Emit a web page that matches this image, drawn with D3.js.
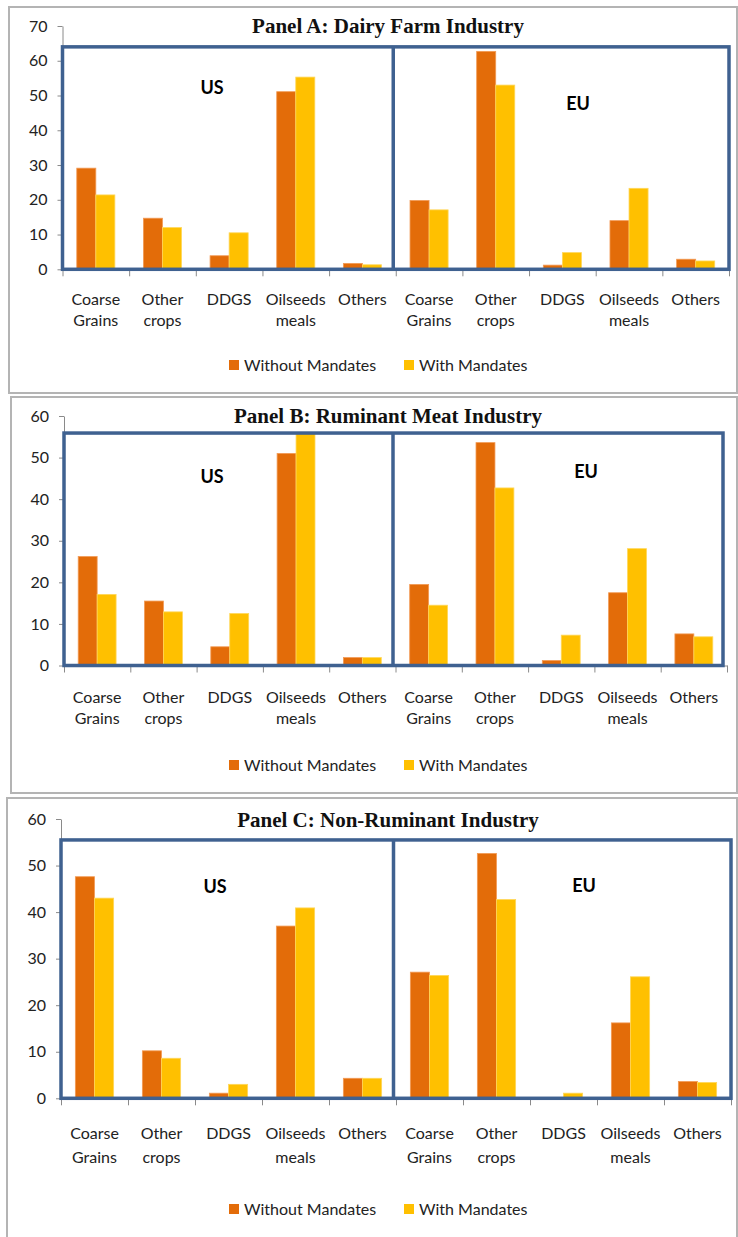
<!DOCTYPE html>
<html>
<head>
<meta charset="utf-8">
<script src="https://cdn.jsdelivr.net/npm/d3@7"></script>
<style>
  body { margin: 0; background: #fff; }
  .tick text { font-family: Lato, sans-serif; font-size: 16px; fill: #222; }
</style>
</head>
<body>
<div id="chart"></div>
<script>
// data, US categories first then EU
var categories = ["Coarse Grains", "Other crops", "DDGS", "Oilseeds meals", "Others"];
var regions = ["US", "EU"];
var series = ["Without Mandates", "With Mandates"];
var colors = ["#E36C09", "#FFC000"];

var dairyWithout = [29.1, 14.7, 3.9, 51.1, 1.7, 19.8, 62.7, 1.2, 14.0, 2.9];
var dairyWith    = [21.4, 12.0, 10.5, 55.3, 1.3, 17.1, 53.0, 4.8, 23.3, 2.4];
var dairyTicks   = [0, 10, 20, 30, 40, 50, 60, 70];

var meatWithout = [26.2, 15.5, 4.5, 51.0, 1.9, 19.5, 53.6, 1.2, 17.5, 7.6];
var meatWith    = [17.1, 12.9, 12.5, 55.8, 1.9, 14.5, 42.7, 7.3, 28.1, 6.9];
var meatTicks   = [0, 10, 20, 30, 40, 50, 60];

var nonWithout = [47.6, 10.2, 1.1, 37.0, 4.3, 27.1, 52.6, 0.0, 16.2, 3.6];
var nonWith    = [43.0, 8.6, 3.0, 40.9, 4.3, 26.4, 42.7, 1.1, 26.1, 3.4];
var nonTicks   = [0, 10, 20, 30, 40, 50, 60];

var svg = d3.select("#chart").append("svg")
  .attr("width", 738)
  .attr("height", 1237);

var panels = [
  {
    title: "Panel A: Dairy Farm Industry", without: dairyWithout, withM: dairyWith, ticks: dairyTicks,
    frame: [9, 7, 728, 386], yRange: [269.3, 26], xRange: [62.5, 729], boxTop: 64, boxRight: 729,
    titleY: 26, us: [212, 88], eu: [578, 104], lab1: 299, lab2: 320, legendY: 365
  },
  {
    title: "Panel B: Ruminant Meat Industry", without: meatWithout, withM: meatWith, ticks: meatTicks,
    frame: [11, 397, 726, 396], yRange: [665.5, 416], xRange: [64, 727], boxTop: 55.9, boxRight: 723,
    titleY: 416, us: [212, 477], eu: [586, 472], lab1: 697, lab2: 718, legendY: 765
  },
  {
    title: "Panel C: Non-Ruminant Industry", without: nonWithout, withM: nonWith, ticks: nonTicks,
    frame: [7, 798, 730, 460], yRange: [1098.3, 819], xRange: [61, 731], boxTop: 55.5, boxRight: 731,
    titleY: 820, us: [215, 887], eu: [584, 886], lab1: 1133, lab2: 1157, legendY: 1209
  }
];

panels.forEach(function(p) {
  var g = svg.append("g");

  // outer grey frame
  g.append("rect")
    .attr("x", p.frame[0]).attr("y", p.frame[1])
    .attr("width", p.frame[2]).attr("height", p.frame[3])
    .attr("fill", "none")
    .attr("stroke", "#b4b4b4")
    .attr("stroke-width", 2);

  var cats = [];
  regions.forEach(function(r) {
    categories.forEach(function(c) { cats.push(r + "|" + c); });
  });

  var rows = cats.map(function(c, i) {
    return { key: c, name: c.split("|")[1], values: [p.without[i], p.withM[i]] };
  });

  var y = d3.scaleLinear()
    .domain([0, d3.max(p.ticks)])
    .range(p.yRange);

  var x = d3.scaleBand()
    .domain(cats)
    .range(p.xRange)
    .padding(0);

  var xSub = d3.scaleBand()
    .domain(series)
    .range([0, x.bandwidth()])
    .paddingInner(0)
    .paddingOuter(0.75);

  var xEdge = d3.scaleLinear()
    .domain([0, cats.length])
    .range(p.xRange);

  // axes
  var yAxis = g.append("g")
    .attr("transform", `translate(${p.xRange[0]},0)`)
    .call(d3.axisLeft(y).tickValues(p.ticks).tickSize(5).tickSizeOuter(0).tickPadding(10));
  yAxis.select(".domain").attr("stroke", "#8a8a8a");
  yAxis.selectAll(".tick line").attr("stroke", "#8a8a8a");

  var xAxis = g.append("g")
    .attr("transform", `translate(0,${p.yRange[0]})`)
    .call(d3.axisBottom(xEdge).ticks(cats.length).tickFormat("").tickSize(7).tickSizeOuter(0));
  xAxis.select(".domain").attr("stroke", "#8a8a8a");
  xAxis.selectAll(".tick line").attr("stroke", "#8a8a8a");

  // bars
  var groups = g.selectAll(".cat")
    .data(rows)
    .enter()
    .append("g")
    .attr("transform", d => `translate(${x(d.key)},0)`);

  groups.selectAll("rect")
    .data(d => d.values.map((v, i) => ({ s: series[i], v: v, i: i })))
    .enter()
    .append("rect")
    .attr("x", d => xSub(d.s))
    .attr("width", xSub.bandwidth())
    .attr("y", d => y(d.v))
    .attr("height", d => y(0) - y(d.v))
    .attr("fill", d => colors[d.i])
    .attr("stroke", d => d.i == 0 ? "#F29A55" : "#FFD75A")
    .attr("stroke-width", 0.8);

  // category labels, two lines
  var labels = groups.append("text")
    .attr("x", x.bandwidth() / 2)
    .attr("text-anchor", "middle")
    .style("font-family", "Lato, sans-serif")
    .style("font-size", "16px")
    .style("fill", "#222");
  labels.append("tspan")
    .attr("x", x.bandwidth() / 2)
    .attr("y", p.lab1)
    .attr("dy", "0.35em")
    .text(d => d.name.split(" ")[0]);
  labels.append("tspan")
    .attr("x", x.bandwidth() / 2)
    .attr("y", p.lab2)
    .attr("dy", "0.35em")
    .text(d => d.name.split(" ").slice(1).join(" "));

  // blue boxes round US and EU
  var divider = xEdge(categories.length) - 2.5;
  g.append("rect")
    .attr("x", p.xRange[0])
    .attr("y", y(p.boxTop))
    .attr("width", p.boxRight - p.xRange[0])
    .attr("height", y(0) - y(p.boxTop))
    .attr("fill", "none")
    .attr("stroke", "#3F6190")
    .attr("stroke-width", 3.5);
  g.append("line")
    .attr("x1", divider).attr("x2", divider)
    .attr("y1", y(p.boxTop)).attr("y2", y(0))
    .attr("stroke", "#3F6190")
    .attr("stroke-width", 3.5);

  g.append("text")
    .attr("x", p.us[0]).attr("y", p.us[1])
    .attr("dy", "0.35em")
    .attr("text-anchor", "middle")
    .style("font-family", "Lato, sans-serif")
    .style("font-weight", "bold")
    .style("font-size", "18px")
    .text(regions[0]);
  g.append("text")
    .attr("x", p.eu[0]).attr("y", p.eu[1])
    .attr("dy", "0.35em")
    .attr("text-anchor", "middle")
    .style("font-family", "Lato, sans-serif")
    .style("font-weight", "bold")
    .style("font-size", "18px")
    .text(regions[1]);

  // title
  g.append("text")
    .attr("x", 388).attr("y", p.titleY)
    .attr("dy", "0.35em")
    .attr("text-anchor", "middle")
    .style("font-family", "'Liberation Serif', 'Times New Roman', serif")
    .style("font-weight", "bold")
    .style("font-size", "21px")
    .style("fill", "#111")
    .text(p.title);

  // legend
  var legendX = [229, 404];
  series.forEach(function(s, i) {
    g.append("rect")
      .attr("x", legendX[i]).attr("y", p.legendY - 5)
      .attr("width", 10).attr("height", 10)
      .attr("fill", colors[i]);
    g.append("text")
      .attr("x", legendX[i] + 15).attr("y", p.legendY)
      .attr("dy", "0.35em")
      .style("font-family", "Lato, sans-serif")
      .style("font-size", "16px")
      .style("fill", "#222")
      .text(s);
  });
});
</script>
</body>
</html>
